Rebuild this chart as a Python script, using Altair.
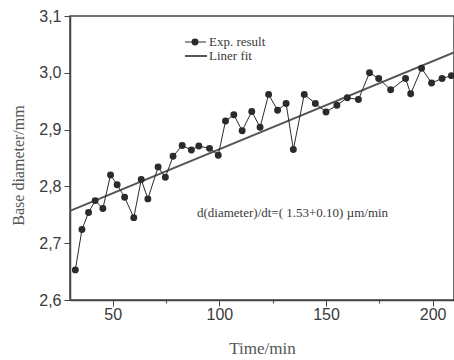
import altair as alt
import pandas as pd

# Experimental data (Time/min, Base diameter/mm)
time_min = [32.5, 35.6, 38.7, 41.8, 45.4, 49.0, 52.1, 55.6, 59.9, 63.4, 66.5,
            71.3, 74.7, 78.3, 82.6, 86.9, 90.4, 95.4, 99.5, 102.9, 106.8, 110.7,
            115.2, 119.1, 123.1, 127.3, 131.3, 134.7, 139.8, 145.0, 150.0, 155.1,
            160.0, 165.2, 170.4, 174.7, 180.3, 187.3, 189.7, 194.8, 199.5, 204.4, 208.8]
diameter = [2.653, 2.724, 2.754, 2.775, 2.761, 2.820, 2.803, 2.781, 2.745, 2.812, 2.778,
            2.834, 2.816, 2.853, 2.872, 2.864, 2.871, 2.867, 2.855, 2.915, 2.926, 2.898,
            2.932, 2.904, 2.962, 2.934, 2.946, 2.865, 2.962, 2.946, 2.931, 2.943,
            2.956, 2.953, 3.000, 2.990, 2.970, 2.990, 2.963, 3.008, 2.982, 2.990, 2.995]

# Linear fit end points
fit_time = [30, 210]
fit_diameter = [2.757, 3.036]

x_ticks = [50, 75, 100, 125, 150, 175, 200]
y_ticks = [2.6, 2.65, 2.7, 2.75, 2.8, 2.85, 2.9, 2.95, 3.0, 3.05, 3.1]

legend_labels = ["Exp. result", "Liner fit"]
annotation = "d(diameter)/dt=( 1.53+0.10)  \u00b5m/min"

df = pd.DataFrame({"t": time_min, "d": diameter})
fit_df = pd.DataFrame({"t": fit_time, "d": fit_diameter})

DARK = "#2b2b2b"
GRAY = "#444444"
TEXT = "#3a3a3a"
TITLE = "#555555"

x_scale = alt.Scale(domain=[30, 210], nice=False, zero=False)
y_scale = alt.Scale(domain=[2.6, 3.1], nice=False, zero=False)

x_axis = alt.Axis(
    values=x_ticks, grid=False,
    labelExpr="datum.value % 50 != 0 ? '' : datum.label",
    tickSize={"condition": {"test": "datum.value % 50 != 0", "value": 3}, "value": 6},
    labelFont="Liberation Sans", labelFontSize=16, labelColor=TEXT, labelPadding=0,
    title="Time/min", titleFont="Liberation Serif", titleFontSize=17,
    titleFontWeight="normal", titleColor=TITLE,
    titleBaseline="alphabetic", titleY=53,
    domainColor=GRAY, tickColor=GRAY, domainWidth=1.5,
)
y_axis = alt.Axis(
    values=y_ticks, grid=False,
    labelExpr="round(datum.value*100) % 10 != 0 ? '' : replace(format(datum.value, '.1f'), '.', ',')",
    tickSize={"condition": {"test": "round(datum.value*100) % 10 != 0", "value": 3}, "value": 6},
    labelFont="Liberation Sans", labelFontSize=16, labelColor=TEXT, labelPadding=3,
    title="Base diameter/mm", titleFont="Liberation Serif", titleFontSize=16,
    titleFontWeight="normal", titleColor=TITLE,
    titleAngle=-90, titleX=-52, titleY=149, titleAlign="center", titleBaseline="middle",
    domainColor=GRAY, tickColor=GRAY, domainWidth=1.5,
)

base = alt.Chart(df)
data_line = base.mark_line(color=DARK, strokeWidth=1).encode(
    x=alt.X("t:Q", scale=x_scale, axis=x_axis),
    y=alt.Y("d:Q", scale=y_scale, axis=y_axis),
)
data_pts = base.mark_circle(color=DARK, size=48, opacity=1).encode(
    x=alt.X("t:Q", scale=x_scale),
    y=alt.Y("d:Q", scale=y_scale),
)
fit_line = alt.Chart(fit_df).mark_line(color="#555555", strokeWidth=2).encode(
    x=alt.X("t:Q", scale=x_scale),
    y=alt.Y("d:Q", scale=y_scale),
)

leg_text = alt.Chart(pd.DataFrame({"label": [legend_labels[0]]})).mark_text(
    align="left", baseline="middle", font="Liberation Serif", fontSize=13, color=TEXT
).encode(x=alt.value(139), y=alt.value(26), text="label:N")
leg_text2 = alt.Chart(pd.DataFrame({"label": [legend_labels[1]]})).mark_text(
    align="left", baseline="middle", font="Liberation Serif", fontSize=13, color=TEXT
).encode(x=alt.value(139), y=alt.value(40), text="label:N")
leg_rule1 = alt.Chart(pd.DataFrame({"a": [0]})).mark_rule(color=DARK, strokeWidth=1).encode(
    x=alt.value(115), x2=alt.value(136), y=alt.value(26))
leg_pt = alt.Chart(pd.DataFrame({"a": [0]})).mark_circle(color=DARK, size=48, opacity=1).encode(
    x=alt.value(125), y=alt.value(26))
leg_rule2 = alt.Chart(pd.DataFrame({"a": [0]})).mark_rule(color="#555555", strokeWidth=2).encode(
    x=alt.value(115), x2=alt.value(137), y=alt.value(40))

ann = alt.Chart(pd.DataFrame({"label": [annotation]})).mark_text(
    align="left", baseline="middle", font="Liberation Serif", fontSize=13, color=TEXT
).encode(x=alt.value(127), y=alt.value(197), text="label:N")

chart = alt.layer(
    fit_line, data_line, data_pts, leg_rule1, leg_pt, leg_rule2, leg_text, leg_text2, ann
).properties(
    width=384, height=284,
    autosize=alt.AutoSizeParams(type="none"),
    padding={"left": 70, "top": 16, "right": 0, "bottom": 60},
    background="white",
).configure_view(stroke=GRAY, strokeWidth=1.5)

chart.save("out.html", embed_options={"renderer": "svg", "actions": False})
